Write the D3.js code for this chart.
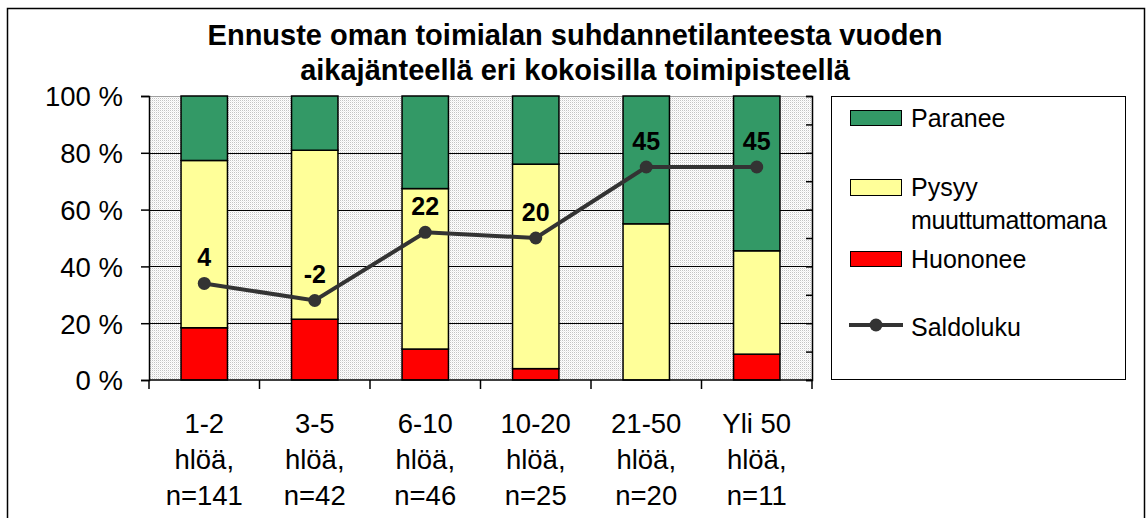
<!DOCTYPE html>
<html>
<head>
<meta charset="utf-8">
<script src="https://cdn.jsdelivr.net/npm/d3@7"></script>
<style>
  body { margin: 0; background: #fff; }
  text { font-family: "Liberation Sans", Arial, sans-serif; }
</style>
</head>
<body>
<div id="chart"></div>
<script>
// data
var categories = ["1-2 hlöä, n=141", "3-5 hlöä, n=42", "6-10 hlöä, n=46",
                  "10-20 hlöä, n=25", "21-50 hlöä, n=20", "Yli 50 hlöä, n=11"];
var catLines = [["1-2", "hlöä,", "n=141"], ["3-5", "hlöä,", "n=42"], ["6-10", "hlöä,", "n=46"],
                ["10-20", "hlöä,", "n=25"], ["21-50", "hlöä,", "n=20"], ["Yli 50", "hlöä,", "n=11"]];
var huononee = [18.4, 21.4, 10.9, 4, 0, 9.1];
var pysyy    = [58.9, 59.5, 56.5, 72, 55, 36.4];
var paranee  = [22.7, 19.1, 32.6, 24, 45, 54.5];
var saldo    = [4, -2, 22, 20, 45, 45];
var yTicks = [0, 20, 40, 60, 80, 100];

var seriesNames = ["Huononee", "Pysyy", "Paranee"];
var colors = {Huononee: "#ff0000", Pysyy: "#ffff99", Paranee: "#339966"};

var W = 1146, H = 518;
var plot = {left: 149, right: 812, top: 96, bottom: 380};

var svg = d3.select("#chart").append("svg")
    .attr("width", W).attr("height", H);

// dotted plot background
var defs = svg.append("defs");
var pat = defs.append("pattern").attr("id", "dots")
    .attr("width", 2).attr("height", 2).attr("patternUnits", "userSpaceOnUse");
pat.append("rect").attr("width", 2).attr("height", 2).attr("fill", "#fff");
pat.append("rect").attr("width", 1).attr("height", 1).attr("fill", "#c4c4c4");
pat.append("rect").attr("x", 1).attr("y", 1).attr("width", 1).attr("height", 1).attr("fill", "#eeeeee");

svg.append("rect").attr("width", W).attr("height", H).attr("fill", "#fff");
// outer chart frame
svg.append("rect")
    .attr("x", 7.5).attr("y", 8.5).attr("width", 1137).attr("height", 530)
    .attr("fill", "none").attr("stroke", "#000").attr("stroke-width", 1.5);

// title
var title = svg.append("text")
    .attr("text-anchor", "middle")
    .attr("font-weight", "bold").attr("font-size", 29);
title.append("tspan").attr("x", 575).attr("y", 45)
    .text("Ennuste oman toimialan suhdannetilanteesta vuoden");
title.append("tspan").attr("x", 575).attr("y", 80)
    .text("aikajänteellä eri kokoisilla toimipisteellä");

var x = d3.scaleBand().domain(categories)
    .range([plot.left, plot.right])
    .paddingInner(0.58).paddingOuter(0.29);
var y = d3.scaleLinear().domain([0, 100]).range([plot.bottom, plot.top]);
var y2 = d3.scaleLinear().domain([-30, 70]).range([plot.bottom, plot.top]);

svg.append("rect")
    .attr("x", plot.left).attr("y", plot.top)
    .attr("width", plot.right - plot.left).attr("height", plot.bottom - plot.top)
    .attr("fill", "url(#dots)");
// top border of plot area
svg.append("line")
    .attr("x1", plot.left).attr("x2", plot.right)
    .attr("y1", plot.top + 0.5).attr("y2", plot.top + 0.5)
    .attr("stroke", "#a0a0a0").attr("stroke-width", 1);

// gridlines
svg.append("g").selectAll("line").data(yTicks.slice(1, -1)).enter().append("line")
    .attr("x1", plot.left).attr("x2", plot.right)
    .attr("y1", function(d) { return Math.round(y(d)) + 0.5; })
    .attr("y2", function(d) { return Math.round(y(d)) + 0.5; })
    .attr("stroke", "#000").attr("stroke-width", 1);

// stacked bars
var rows = categories.map(function(c, i) {
    return {cat: c, Huononee: huononee[i], Pysyy: pysyy[i], Paranee: paranee[i]};
});
var stack = d3.stack().keys(seriesNames)(rows);
svg.append("g").selectAll("g").data(stack).enter().append("g")
    .attr("fill", function(d) { return colors[d.key]; })
  .selectAll("rect").data(function(d) { return d; }).enter()
    .filter(function(d) { return d[1] - d[0] > 0; })
  .append("rect")
    .attr("x", function(d) { return x(d.data.cat); })
    .attr("width", x.bandwidth())
    .attr("y", function(d) { return y(d[1]); })
    .attr("height", function(d) { return y(d[0]) - y(d[1]); })
    .attr("stroke", "#000").attr("stroke-width", 1.5);

// left axis
var yAxis = svg.append("g")
    .attr("transform", "translate(" + plot.left + ",0)")
    .call(d3.axisLeft(y).tickValues(yTicks).tickSize(8).tickPadding(18)
        .tickFormat(function(d) { return d + " %"; }));
yAxis.select(".domain").attr("stroke", "#000").attr("stroke-width", 1.5);
yAxis.selectAll("line").attr("stroke", "#000").attr("stroke-width", 1.5);
yAxis.selectAll("text").attr("font-size", 27.5).attr("font-family", "Liberation Sans, Arial")
    .attr("fill", "#000").attr("dy", "0.36em");

// right (secondary) axis, ticks only
var y2Axis = svg.append("g")
    .attr("transform", "translate(" + plot.right + ",0)")
    .call(d3.axisLeft(y2).ticks(10).tickSize(6).tickFormat(""));
y2Axis.select(".domain").attr("stroke", "#000").attr("stroke-width", 1.5);
y2Axis.selectAll("line").attr("stroke", "#000").attr("stroke-width", 1.5);

// bottom axis
svg.append("line")
    .attr("x1", plot.left).attr("x2", plot.right)
    .attr("y1", plot.bottom).attr("y2", plot.bottom)
    .attr("stroke", "#000").attr("stroke-width", 1.5);
var bounds = categories.map(function(c) { return x(c) - x.step() * x.paddingInner() / 2; })
    .concat([plot.right]);
svg.append("g").selectAll("line").data(bounds).enter().append("line")
    .attr("x1", function(d) { return d; }).attr("x2", function(d) { return d; })
    .attr("y1", plot.bottom).attr("y2", plot.bottom + 9)
    .attr("stroke", "#000").attr("stroke-width", 1.5);

// category labels
var cl = svg.append("g").selectAll("text").data(catLines).enter().append("text")
    .attr("text-anchor", "middle").attr("font-size", 27.5);
cl.each(function(lines, i) {
    var t = d3.select(this);
    var cx = x(categories[i]) + x.bandwidth() / 2;
    lines.forEach(function(s, j) {
        t.append("tspan").attr("x", cx).attr("y", 433 + j * 36).text(s);
    });
});

// saldo line
var line = d3.line()
    .x(function(d, i) { return x(categories[i]) + x.bandwidth() / 2; })
    .y(function(d) { return y2(d); });
svg.append("path").datum(saldo)
    .attr("d", line).attr("fill", "none")
    .attr("stroke", "#333").attr("stroke-width", 4);
svg.append("g").selectAll("circle").data(saldo).enter().append("circle")
    .attr("cx", function(d, i) { return x(categories[i]) + x.bandwidth() / 2; })
    .attr("cy", function(d) { return y2(d); })
    .attr("r", 6.5).attr("fill", "#333");
svg.append("g").selectAll("text").data(saldo).enter().append("text")
    .attr("x", function(d, i) { return x(categories[i]) + x.bandwidth() / 2; })
    .attr("y", function(d) { return y2(d) - 17; })
    .attr("text-anchor", "middle").attr("font-weight", "bold").attr("font-size", 25)
    .text(function(d) { return d; });

// legend
var lg = svg.append("g");
lg.append("rect").attr("x", 831.5).attr("y", 96.5).attr("width", 294).attr("height", 283)
    .attr("fill", "#fff").attr("stroke", "#000").attr("stroke-width", 1);
var legendItems = [
    {name: "Paranee", lines: ["Paranee"], y: 110, h: 15},
    {name: "Pysyy", lines: ["Pysyy", "muuttumattomana"], y: 179, h: 16},
    {name: "Huononee", lines: ["Huononee"], y: 251, h: 15}
];
legendItems.forEach(function(it) {
    lg.append("rect").attr("x", 850.5).attr("y", it.y + 0.5).attr("width", 51).attr("height", it.h)
        .attr("fill", colors[it.name]).attr("stroke", "#000").attr("stroke-width", 1);
    var t = lg.append("text").attr("font-size", 25);
    it.lines.forEach(function(s, j) {
        t.append("tspan").attr("x", 911).attr("y", it.y + 17 + j * 33)
            .attr("textLength", s.length > 10 ? 196 : null).text(s);
    });
});
lg.append("line").attr("x1", 849).attr("x2", 903).attr("y1", 325).attr("y2", 325)
    .attr("stroke", "#333").attr("stroke-width", 4);
lg.append("circle").attr("cx", 876).attr("cy", 325).attr("r", 6.5).attr("fill", "#333");
lg.append("text").attr("x", 911).attr("y", 336).attr("font-size", 25).text("Saldoluku");
</script>
</body>
</html>
